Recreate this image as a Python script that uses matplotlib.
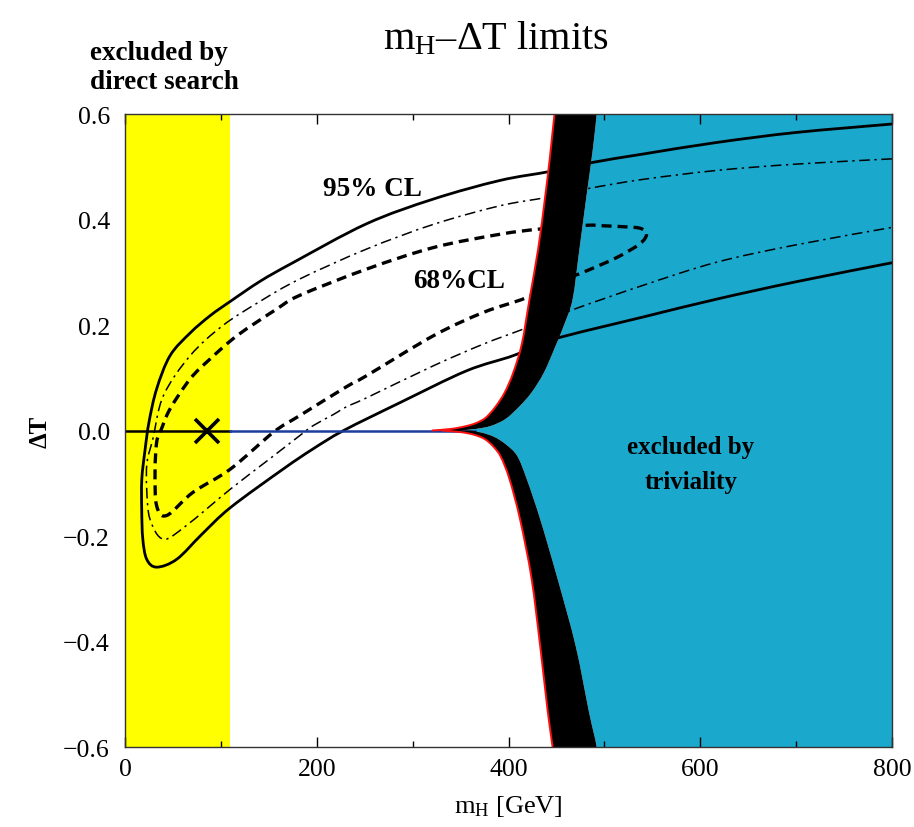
import matplotlib
matplotlib.use("Agg")
import matplotlib.pyplot as plt
from matplotlib.path import Path
from matplotlib.patches import PathPatch
import numpy as np

plt.rcParams['font.family'] = ['Liberation Serif', 'DejaVu Serif']
plt.rcParams['mathtext.fontset'] = 'custom'
plt.rcParams['mathtext.rm'] = 'Liberation Serif'
plt.rcParams['mathtext.it'] = 'Liberation Serif:italic'
plt.rcParams['mathtext.bf'] = 'Liberation Serif:bold'

# ---- data -------------------------------------------------------------
# direct-search exclusion (GeV)
direct_limit = 110.0
# best fit point
best_mh, best_dT = 85.0, 0.0

# 95% CL contour (solid), traced from upper-right around to lower-right
cl95_m = [800, 700, 617, 540, 487, 443, 391, 322, 252, 175, 141, 110, 89,
          68, 47, 33, 25, 21, 17.5, 17.4, 18.5, 22.6, 33, 54, 80, 110, 165,
          196, 228, 287, 356, 405, 447, 540, 617, 700, 800]
cl95_dT = [0.581, 0.565, 0.546, 0.524, 0.508, 0.491, 0.474, 0.439, 0.392,
           0.318, 0.283, 0.245, 0.218, 0.185, 0.142, 0.079, 0.016,
           -0.035, -0.092, -0.150, -0.205, -0.244, -0.259, -0.244, -0.197,
           -0.146, -0.073, -0.035, 0.0, 0.053, 0.113, 0.142, 0.173, 0.215,
           0.249, 0.282, 0.318]

# intermediate contour (thin dash-dot)
cl90_m = [800, 700, 617, 540, 481, 440, 391, 322, 252, 182, 141, 102,
          68, 40, 29, 23, 22.6, 26, 40, 64, 110, 150, 182, 196, 217, 231,
          252, 322, 374, 415, 464, 540, 617, 700, 800]
cl90_dT = [0.515, 0.505, 0.493, 0.476, 0.458, 0.442, 0.426, 0.391, 0.344,
           0.287, 0.245, 0.199, 0.142, 0.066, -0.016, -0.060, -0.110,
           -0.168, -0.206, -0.180, -0.111, -0.055, -0.010, 0.009, 0.030, 0.045,
           0.062, 0.123, 0.164, 0.192, 0.227, 0.275, 0.319, 0.352, 0.385]

# 68% CL contour (heavy dashed), closed loop
cl68_m = [464, 478, 513, 537, 544, 538, 523, 500, 481, 433, 391, 322, 252,
          182, 158, 117, 89, 68, 47, 38, 33, 31.3, 33, 43.5, 71, 110,
          155, 182, 231, 252, 322, 374, 419, 464]
cl68_dT = [0.290, 0.300, 0.328, 0.354, 0.372, 0.383, 0.386, 0.388, 0.389,
           0.382, 0.372, 0.347, 0.306, 0.256, 0.230, 0.180, 0.136,
           0.098, 0.041, 0.003, -0.022, -0.079, -0.143, -0.161, -0.117,
           -0.073, -0.003, 0.028, 0.083, 0.104, 0.180, 0.224, 0.252, 0.290]

# triviality bound: inner (red) edge and outer edge of the uncertainty band
triv_up_in_m = [320, 340, 355, 366, 376, 386, 396, 405, 414, 422, 431, 438, 443, 448, 452]
triv_up_in_dT = [0.0, 0.003, 0.008, 0.014, 0.024, 0.044, 0.072, 0.110, 0.165, 0.250, 0.345, 0.440, 0.515, 0.600, 0.650]
triv_up_out_m = [348, 366, 382, 397, 411, 424, 437, 449, 459, 467, 474, 481, 488, 492, 495]
triv_up_out_dT = [0.0, 0.003, 0.009, 0.022, 0.045, 0.072, 0.110, 0.160, 0.205, 0.250, 0.344, 0.440, 0.534, 0.600, 0.650]
triv_lo_in_m = [330, 350, 364, 375, 384, 392, 401, 412, 424, 433, 441, 446, 449]
triv_lo_in_dT = [0.0, -0.003, -0.008, -0.016, -0.030, -0.050, -0.092, -0.168, -0.280, -0.408, -0.534, -0.600, -0.650]
triv_lo_out_m = [360, 372, 385, 397, 409, 419, 433, 451, 470, 484, 492, 495]
triv_lo_out_dT = [0.0, -0.004, -0.012, -0.026, -0.048, -0.092, -0.168, -0.280, -0.408, -0.534, -0.600, -0.650]

x_ticks = [0, 200, 400, 600, 800]
y_ticks = [-0.6, -0.4, -0.2, 0.0, 0.2, 0.4, 0.6]
y_ticklabels = ['\u22120.6', '\u22120.4', '\u22120.2', '0.0', '0.2', '0.4', '0.6']


# ---- helpers ------------------------------------------------------------
def bezier_segments(xs, ys, closed=False):
    """Vertices/codes of a smooth cubic-Bezier curve through the given points."""
    P = np.column_stack([xs, ys]).astype(float)
    n = len(P)
    verts = [P[0]]
    codes = [Path.MOVETO]
    for i in range(n - 1):
        if i > 0:
            p0 = P[i - 1]
        else:
            p0 = P[-2] if closed else P[i]
        p1, p2 = P[i], P[i + 1]
        if i + 2 < n:
            p3 = P[i + 2]
        else:
            p3 = P[1] if closed else P[i + 1]
        verts += [p1 + (p2 - p0) / 6.0, p2 - (p3 - p1) / 6.0, p2]
        codes += [Path.CURVE4] * 3
    return verts, codes


def smooth_curve(ax, xs, ys, closed=False, **kw):
    v, c = bezier_segments(xs, ys, closed)
    ax.add_patch(PathPatch(Path(v, c), fill=False, **kw))


def smooth_region(ax, pieces, **kw):
    verts, codes = [], []
    for k, (xs, ys) in enumerate(pieces):
        v, c = bezier_segments(xs, ys)
        if k > 0:
            c = [Path.LINETO] + c[1:]
        verts += v
        codes += c
    verts.append(verts[0])
    codes.append(Path.CLOSEPOLY)
    ax.add_patch(PathPatch(Path(verts, codes), **kw))


# ---- figure -----------------------------------------------------------
fig = plt.figure(figsize=(9.14, 8.28), dpi=100)
ax = fig.add_axes([0.1368, 0.0966, 0.8391, 0.7645])
ax.set_xlim(0, 800)
ax.set_ylim(-0.6, 0.6)

yellow = '#ffff00'
blue = '#1aa8cc'
red = '#ff1010'

ax.axvspan(0, direct_limit, color=yellow, lw=0, zorder=0)

# triviality excluded region (blue) right of the outer band edge
smooth_region(ax, [(triv_up_out_m[::-1], triv_up_out_dT[::-1]),
                   (triv_lo_out_m, triv_lo_out_dT),
                   ([900, 900], [-0.65, 0.65])],
              facecolor=blue, edgecolor='none', lw=0, zorder=1)

# confidence contours
smooth_curve(ax, cl95_m, cl95_dT, edgecolor='black', lw=2.0, zorder=2,
             capstyle='round')
smooth_curve(ax, cl90_m, cl90_dT, edgecolor='black', lw=1.1, zorder=2,
             linestyle=(0, (7, 3, 1.5, 3)))
smooth_curve(ax, cl68_m, cl68_dT, closed=True, edgecolor='black', lw=2.4,
             zorder=2, linestyle=(0, (3.0, 1.8)))

# dT = 0 reference line
ax.plot([0, direct_limit], [0, 0], color='black', lw=1.8, zorder=2.5)
ax.plot([direct_limit, 365], [0, 0], color='#1c3c9c', lw=1.8, zorder=2.5)

# black uncertainty band of the triviality bound
smooth_region(ax, [(triv_up_in_m[::-1], triv_up_in_dT[::-1]),
                   (triv_lo_in_m, triv_lo_in_dT),
                   (triv_lo_out_m[::-1], triv_lo_out_dT[::-1]),
                   (triv_up_out_m, triv_up_out_dT)],
              facecolor='black', edgecolor='none', lw=0, zorder=3)
smooth_curve(ax, triv_up_in_m, triv_up_in_dT, edgecolor=red, lw=1.4, zorder=4)
smooth_curve(ax, triv_lo_in_m, triv_lo_in_dT, edgecolor=red, lw=1.4, zorder=4)

ax.plot([best_mh], [best_dT], marker='x', color='black', ms=17, mew=2.6,
        zorder=5, ls='none')

# labels inside the plot
bold = dict(fontweight='bold', color='black', zorder=6)
ax.text(258, 0.458, '95% CL', ha='center', va='center', fontsize=19.5, **bold)
ax.text(348, 0.284, '68%CL', ha='center', va='center', fontsize=19.5, **bold)
ax.text(590, -0.064, 'excluded by\ntriviality', ha='center', va='center',
        fontsize=18, linespacing=1.65, **bold)

# axes styling
ax.set_xticks(x_ticks)
ax.set_xticks(np.arange(100, 800, 200), minor=True)
ax.set_yticks(y_ticks)
ax.set_yticklabels(y_ticklabels)
ax.tick_params(axis='x', which='major', direction='in', top=True, length=7,
               width=1.0, labelsize=18.5, pad=8)
ax.tick_params(axis='x', which='minor', direction='in', top=True, length=4,
               width=1.0)
ax.tick_params(axis='y', which='both', length=0, labelsize=18.5, pad=11)
for s in ax.spines.values():
    s.set_linewidth(1.0)
    s.set_color('#333333')
    s.set_zorder(7)

ax.set_xlabel('m$_{\\rm H}$ [GeV]', fontsize=19, labelpad=9)
ax.set_ylabel('\u0394T', fontsize=18, fontweight='bold', labelpad=8)

fig.text(0.542, 0.952, 'm$_{\\rm H}$\u2013\u0394T limits', ha='center',
         va='center', fontsize=29)
fig.text(0.099, 0.918, 'excluded by\ndirect search', ha='left', va='center',
         fontsize=19.5, fontweight='bold', linespacing=1.22)

fig.savefig('out.png', dpi=100)
